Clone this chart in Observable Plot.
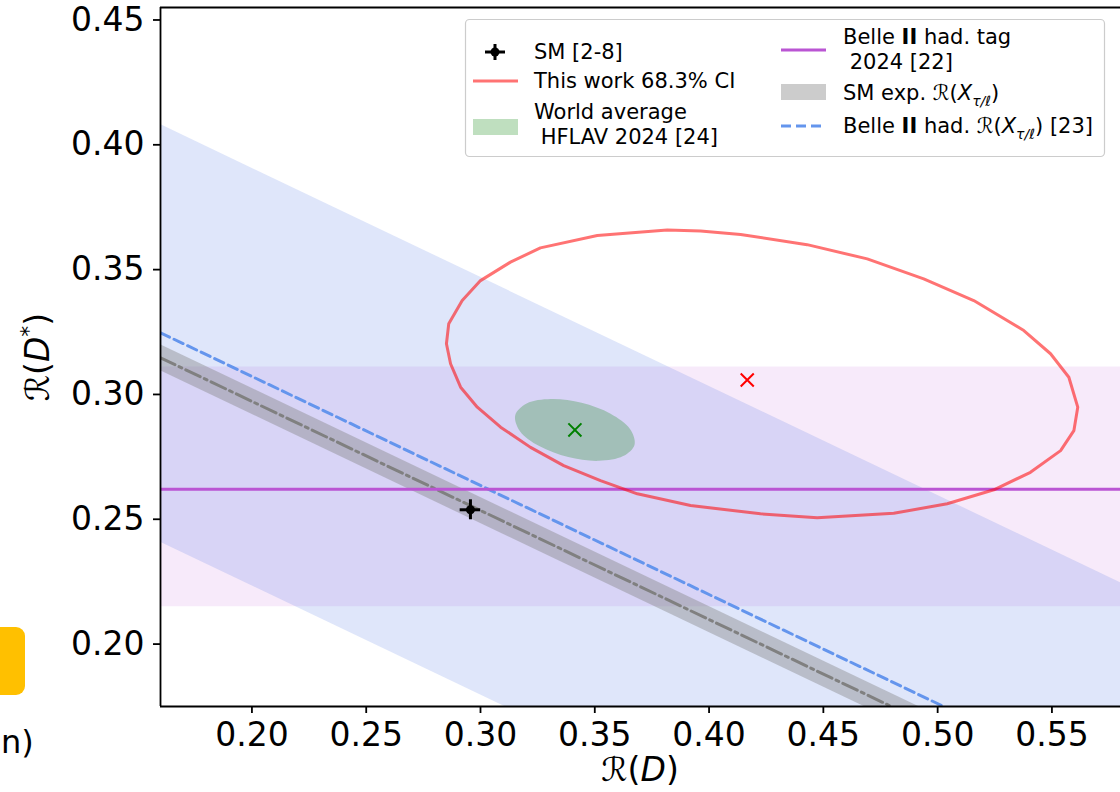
<!DOCTYPE html>
<html><head><meta charset="utf-8">
<script src="https://cdn.jsdelivr.net/npm/d3@7"></script>
<script src="https://cdn.jsdelivr.net/npm/@observablehq/plot@0.6"></script>
<style>body{margin:0;background:#fff;} #chart{width:1120px;height:792px;position:relative;}</style>
</head><body><div id="chart"></div>
<script>
// Axes
const xDomain = [0.16, 0.58];
const yDomain = [0.175, 0.455];
const xTicks = [0.20, 0.25, 0.30, 0.35, 0.40, 0.45, 0.50, 0.55];
const yTicks = [0.20, 0.25, 0.30, 0.35, 0.40, 0.45];

// Diagonal R(X_tau/l) lines: R(D*) at R(D) = lineRD
const lineRD = [0.16, 0.58];
const belleRX = [0.3247, 0.1412];
const belleRXHi = [0.4081, 0.2246];
const belleRXLo = [0.2408, 0.0573];
const smRX = [0.3147, 0.1312];
const smRXHi = [0.3199, 0.1364];
const smRXLo = [0.3095, 0.1260];

// Belle II had. tag 2024 R(D*)
const belleTag = 0.262;
const belleTagLo = 0.215;
const belleTagHi = 0.311;

// Points
const smRD = 0.2956, smRDs = 0.2538, smErrRD = 0.0045, smErrRDs = 0.004;
const hflavRD = 0.3413, hflavRDs = 0.2858;
const thisRD = 0.4167, thisRDs = 0.3058;

// HFLAV world-average ellipse outline
const hflavEllRD  = [0.3674,0.3624,0.3518,0.3384,0.3257,0.3172,0.3152,0.3202,0.3308,0.3442,0.3569,0.3654];
const hflavEllRDs = [0.2799,0.2753,0.2734,0.2749,0.2793,0.2854,0.2917,0.2964,0.2982,0.2967,0.2923,0.2862];

// This work 68.3% CI contour
const ciRD  = [0.3817,0.3511,0.3262,0.3131,0.3000,0.2920,0.2861,0.2851,0.2869,0.2913,0.2986,0.3088,0.3219,0.3364,0.3525,0.3686,0.3919,0.4225,0.4473,0.4808,0.5042,0.5246,0.5406,0.5538,0.5596,0.5613,0.5574,0.5494,0.5377,0.5158,0.4939,0.4692,0.4429,0.4138,0.3963];
const ciRDs = [0.3659,0.3637,0.3587,0.3530,0.3456,0.3376,0.3283,0.3203,0.3123,0.3029,0.2949,0.2869,0.2788,0.2715,0.2655,0.2602,0.2555,0.2522,0.2506,0.2524,0.2562,0.2618,0.2688,0.2775,0.2855,0.2949,0.3069,0.3163,0.3256,0.3376,0.3463,0.3543,0.3600,0.3641,0.3655];

const lineRows = ys => lineRD.map((x, i) => ({RD: x, RDs: ys[i]}));
const bandRows = (lo, hi) => lineRD.map((x, i) => ({RD: x, lo: lo[i], hi: hi[i]}));
const pts = (xs, ys) => xs.map((x, i) => ({RD: x, RDs: ys[i]}));

const FONT = "DejaVu Sans, sans-serif";

const plot = Plot.plot({
  width: 1120, height: 792,
  marginLeft: 160, marginRight: 0, marginTop: 7, marginBottom: 86,
  style: {fontFamily: FONT, fontSize: "33px", color: "black", background: "white", overflow: "visible"},
  x: {domain: xDomain},
  y: {domain: yDomain},
  marks: [
    Plot.areaY(lineRD.map(x => ({RD: x, lo: belleTagLo, hi: belleTagHi})), {x: "RD", y1: "lo", y2: "hi", fill: "mediumorchid", fillOpacity: 0.12, clip: true}),
    Plot.areaY(bandRows(belleRXLo, belleRXHi), {x: "RD", y1: "lo", y2: "hi", fill: "royalblue", fillOpacity: 0.17, clip: true}),
    Plot.areaY(bandRows(smRXLo, smRXHi), {x: "RD", y1: "lo", y2: "hi", fill: "gray", fillOpacity: 0.4, clip: true}),
    Plot.line(lineRows(smRX), {x: "RD", y: "RDs", stroke: "gray", strokeWidth: 3, strokeDasharray: "16,4.5,3,4.5", clip: true}),
    Plot.line(lineRows(belleRX), {x: "RD", y: "RDs", stroke: "cornflowerblue", strokeWidth: 3, strokeDasharray: "10,5", clip: true}),
    Plot.ruleY([belleTag], {stroke: "mediumorchid", strokeWidth: 3}),
    Plot.line(pts(hflavEllRD, hflavEllRDs), {x: "RD", y: "RDs", curve: "catmull-rom-closed", fill: "green", fillOpacity: 0.25, stroke: "none"}),
    Plot.line(pts(ciRD, ciRDs), {x: "RD", y: "RDs", curve: "linear-closed", stroke: "red", strokeOpacity: 0.55, strokeWidth: 3}),
    Plot.dot([{RD: hflavRD, RDs: hflavRDs}], {x: "RD", y: "RDs", symbol: "times", r: 6, stroke: "green", strokeWidth: 2}),
    Plot.dot([{RD: thisRD, RDs: thisRDs}], {x: "RD", y: "RDs", symbol: "times", r: 6, stroke: "red", strokeWidth: 2}),
    Plot.ruleY([{RD: smRD, RDs: smRDs}], {y: "RDs", x1: d => d.RD - smErrRD, x2: d => d.RD + smErrRD, stroke: "black", strokeWidth: 3}),
    Plot.ruleX([{RD: smRD, RDs: smRDs}], {x: "RD", y1: d => d.RDs - smErrRDs, y2: d => d.RDs + smErrRDs, stroke: "black", strokeWidth: 3}),
    Plot.dot([{RD: smRD, RDs: smRDs}], {x: "RD", y: "RDs", r: 4.5, fill: "black"}),
    Plot.ruleX([xDomain[0]], {stroke: "black", strokeWidth: 1.8}),
    Plot.ruleY([yDomain[0], yDomain[1]], {stroke: "black", strokeWidth: 1.8}),
    Plot.axisX({ticks: xTicks, tickFormat: d3.format(".2f"), tickSize: 7, tickPadding: 9, strokeWidth: 1.8, fontSize: 33, label: null}),
    Plot.axisY({ticks: yTicks, tickFormat: d3.format(".2f"), tickSize: 7, tickPadding: 9, strokeWidth: 1.8, fontSize: 33, label: null})
  ]
});
document.getElementById("chart").appendChild(plot);

const svg = d3.select(plot);
svg.style("font-family", FONT);

// Axis labels
const xl = svg.append("text").attr("x", 640).attr("y", 781).attr("text-anchor", "middle").style("font-size", "33px").attr("fill", "black");
xl.append("tspan").text("ℛ");
xl.append("tspan").text("(");
xl.append("tspan").style("font-style", "italic").text("D");
xl.append("tspan").text(")");

const yl = svg.append("text").attr("transform", "translate(49,357) rotate(-90)").attr("text-anchor", "middle").style("font-size", "33px").attr("fill", "black");
yl.append("tspan").text("ℛ");
yl.append("tspan").text("(");
yl.append("tspan").style("font-style", "italic").text("D");
yl.append("tspan").attr("dy", -13).style("font-size", "22px").text("*");
yl.append("tspan").attr("dy", 13).text(")");

// Legend
const lg = svg.append("g").style("font-size", "21px").attr("text-anchor", "start");
lg.append("rect").attr("x", 465.5).attr("y", 19.5).attr("width", 639).attr("height", 137).attr("rx", 4)
  .attr("fill", "white").attr("fill-opacity", 0.8).attr("stroke", "#cccccc").attr("stroke-width", 1.2);
function txt(x, y, parts) {
  const t = lg.append("text").attr("x", x).attr("y", y).attr("text-anchor", "start").attr("dominant-baseline", "central").attr("fill", "black").style("white-space", "pre");
  parts.forEach(p => {
    const s = t.append("tspan").text(p.t);
    if (p.b) s.style("font-weight", "bold");
    if (p.i) s.style("font-style", "italic");
    if (p.sub) s.attr("baseline-shift", "sub").style("font-size", "14px");
  });
  return t;
}
// SM marker
lg.append("line").attr("x1", 485).attr("x2", 505).attr("y1", 52).attr("y2", 52).attr("stroke", "black").attr("stroke-width", 3);
lg.append("line").attr("x1", 495).attr("x2", 495).attr("y1", 44).attr("y2", 60).attr("stroke", "black").attr("stroke-width", 3);
lg.append("circle").attr("cx", 495).attr("cy", 52).attr("r", 4.5).attr("fill", "black");
txt(534, 52, [{t: "SM [2-8]"}]);
// This work
lg.append("line").attr("x1", 473).attr("x2", 518).attr("y1", 81).attr("y2", 81).attr("stroke", "red").attr("stroke-opacity", 0.55).attr("stroke-width", 3);
txt(534, 81, [{t: "This work 68.3% CI"}]);
// HFLAV
lg.append("rect").attr("x", 473).attr("y", 119).attr("width", 45).attr("height", 16).attr("fill", "green").attr("fill-opacity", 0.25);
txt(534, 112, [{t: "World average"}]);
txt(534, 137, [{t: " HFLAV 2024 [24]"}]);
// Belle II tag
lg.append("line").attr("x1", 781).attr("x2", 826).attr("y1", 50).attr("y2", 50).attr("stroke", "mediumorchid").attr("stroke-width", 3);
txt(843, 37, [{t: "Belle "}, {t: "II", b: true}, {t: " had. tag"}]);
txt(843, 62, [{t: " 2024 [22]"}]);
// SM exp
lg.append("rect").attr("x", 781).attr("y", 84).attr("width", 45).attr("height", 16).attr("fill", "gray").attr("fill-opacity", 0.4);
txt(843, 93, [{t: "SM exp. ℛ("}, {t: "X", i: true}, {t: "τ/ℓ", i: true, sub: true}, {t: ")"}]);
// Belle II had R(X)
lg.append("line").attr("x1", 781).attr("x2", 826).attr("y1", 126).attr("y2", 126).attr("stroke", "cornflowerblue").attr("stroke-width", 3).attr("stroke-dasharray", "10,5");
txt(843, 126, [{t: "Belle "}, {t: "II", b: true}, {t: " had. ℛ("}, {t: "X", i: true}, {t: "τ/ℓ", i: true, sub: true}, {t: ") [23]"}]);

// Cropped fragments at the left edge of the figure
svg.append("rect").attr("x", -12).attr("y", 627).attr("width", 37).attr("height", 68).attr("rx", 9).attr("fill", "#ffc000");
svg.append("text").attr("x", 1).attr("y", 753).attr("text-anchor", "start").style("font-size", "32px").attr("fill", "black").text("n)");
</script></body></html>
